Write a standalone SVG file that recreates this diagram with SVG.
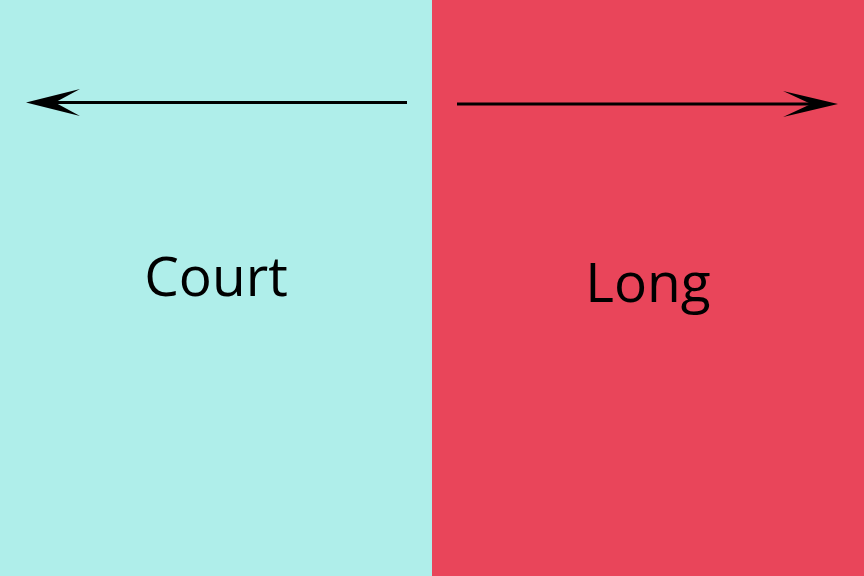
<svg xmlns="http://www.w3.org/2000/svg" width="864" height="576" viewBox="0 0 864 576">
<style>
.lbl{font-family:"Open Sans","Liberation Sans",sans-serif;font-size:55px;fill:#000;text-anchor:middle}
.ln{stroke:#000;stroke-width:3;fill:none}
</style>
<g id="court">
<rect x="0" y="0" width="432" height="576" fill="#AFEEEA"/>
<text class="lbl" x="216" y="296">Court</text>
</g>
<g id="long">
<rect x="432" y="0" width="432" height="576" fill="#E9455A"/>
<text class="lbl" x="648" y="302">Long</text>
</g>
<g id="connectors">
<line class="ln" x1="407" y1="102.5" x2="50" y2="102.5"/>
<path d="M26,102.5 L80,89 L55,102.5 L80,116 Z" fill="#000"/>
<line class="ln" x1="457" y1="104" x2="815" y2="104"/>
<path d="M838,104 L783,91 L811,104 L783,117 Z" fill="#000"/>
</g>
</svg>
